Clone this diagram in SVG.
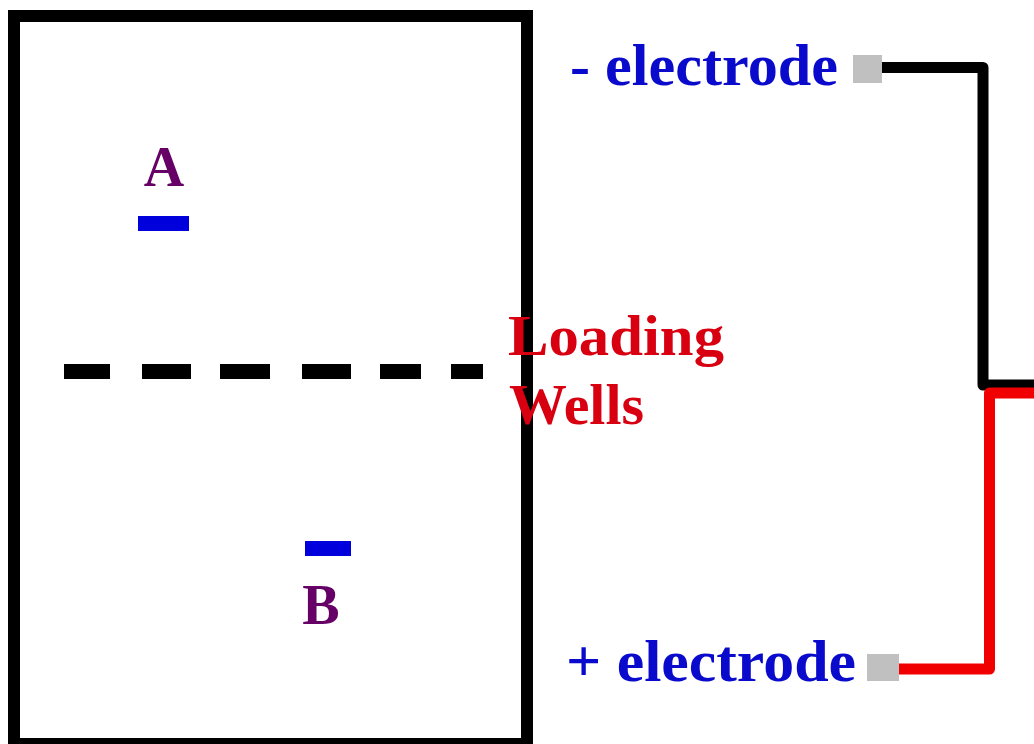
<svg xmlns="http://www.w3.org/2000/svg" width="1034" height="744" viewBox="0 0 1034 744">
<style>
.lbl{font-family:"Liberation Serif","Times New Roman",serif;font-weight:bold}
.blue{fill:#0a0acc}
.purple{fill:#660066}
.red{fill:#d80010}
.wire{fill:none;stroke-width:11;stroke-linejoin:round}
.term{fill:#c0c0c0}
.band{fill:#0000dd}
.dash{fill:#000}
</style>
<rect width="1034" height="744" fill="#ffffff"/>
<g id="gel">
<rect x="14" y="16" width="513" height="728" fill="none" stroke="#000" stroke-width="12"/>
</g>
<g id="wells">
<rect class="dash" x="64" y="364" width="46" height="15"/>
<rect class="dash" x="142" y="364" width="49" height="15"/>
<rect class="dash" x="220" y="364" width="50" height="15"/>
<rect class="dash" x="302" y="364" width="49" height="15"/>
<rect class="dash" x="380" y="364" width="41" height="15"/>
<rect class="dash" x="451" y="364" width="32" height="15"/>
</g>
<g id="connectors">
<path class="wire" d="M880,67.5 H983 V385 H1034" stroke="#000"/>
<path class="wire" d="M896,669 H989.5 V393 H1034" stroke="#f00000" stroke-width="12"/>
</g>
<g id="neg-electrode">
<rect class="term" x="853" y="55" width="29" height="28"/>
<text class="lbl blue" x="570" y="85" font-size="59" textLength="268" lengthAdjust="spacingAndGlyphs">- electrode</text>
</g>
<g id="pos-electrode">
<rect class="term" x="867" y="654" width="32" height="27"/>
<text class="lbl blue" x="566" y="681" font-size="59" textLength="290" lengthAdjust="spacingAndGlyphs">+ electrode</text>
</g>
<g id="loading-wells">
<text class="lbl red" x="508" y="355" font-size="58" textLength="216" lengthAdjust="spacingAndGlyphs">Loading</text>
<text class="lbl red" x="509" y="424" font-size="58" textLength="135" lengthAdjust="spacingAndGlyphs">Wells</text>
</g>
<g id="band-A">
<text class="lbl purple" x="164" y="186" font-size="56" text-anchor="middle">A</text>
<rect class="band" x="138" y="216" width="51" height="15"/>
</g>
<g id="band-B">
<rect class="band" x="305" y="541" width="46" height="15"/>
<text class="lbl purple" x="321" y="624" font-size="56" text-anchor="middle">B</text>
</g>
</svg>
